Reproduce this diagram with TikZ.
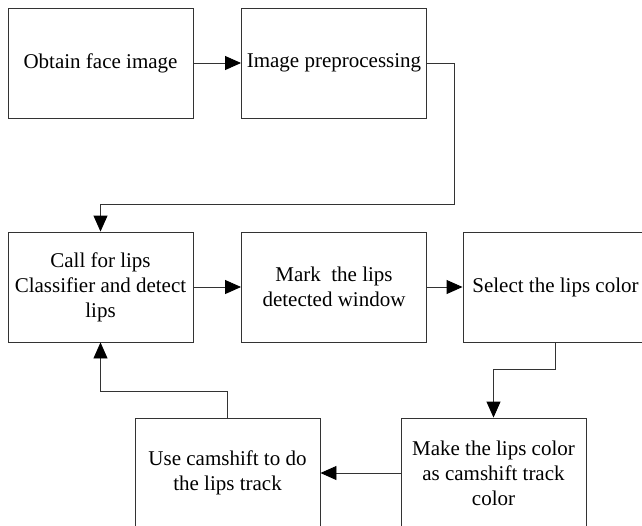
\documentclass[tikz,border=0pt]{standalone}
\usepackage{fontspec}
\setmainfont{Liberation Serif}
\usetikzlibrary{arrows.meta,calc}
\begin{document}
\begin{tikzpicture}[x=1pt,y=-1pt,
  box/.style={draw=black!80,line width=0.9pt,minimum width=185pt,minimum height=110pt,inner sep=0pt,align=center,font=\fontsize{21}{25}\selectfont},
  conn/.style={draw=black!80,line width=0.9pt},
  arr/.style={conn,-{Triangle[length=16pt,width=14pt,color=black]}}]
\useasboundingbox (0,0) rectangle (642,525);
\clip (0,0) rectangle (642,525);
\node[box] (b1) at (100.5,63) {Obtain face image};
\node[box] (b2) at (334,63) {Image preprocessing};
\node[box] (b3) at (100.5,287) {Call for lips\\Classifier and detect\\lips};
\node[box] (b4) at (334,287) {Mark\ \ the lips\\detected window};
\node[box] (b5) at (555.5,287) {Select the lips color};
\node[box] (b6) at (493.5,473) {Make the lips color\\as camshift track\\color};
\node[box] (b7) at (227.5,473) {Use camshift to do\\the lips track};
\coordinate (c1) at (454,204);
\coordinate (c2) at (0,369);
\coordinate (c3) at (0,391);
\draw[arr] (b1.east) -- (b2.west);
\draw[arr] (b2.east) -| (c1) -- (c1 -| b3.north) -- (b3.north);
\draw[arr] (b3.east) -- (b4.west);
\draw[arr] (b4.east) -- (b5.west);
\draw[arr] (b5.south) -- (b5.south |- c2) -- (b6.north |- c2) -- (b6.north);
\draw[arr] (b6.west) -- (b7.east);
\draw[arr] (b7.north) -- (b7.north |- c3) -- (b3.south |- c3) -- (b3.south);
\end{tikzpicture}
\end{document}
